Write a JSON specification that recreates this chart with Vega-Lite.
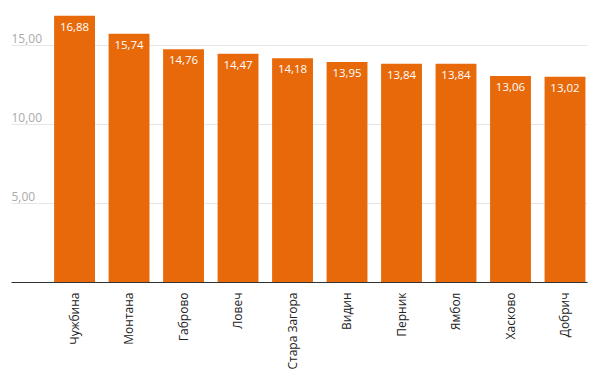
{
  "$schema": "https://vega.github.io/schema/vega-lite/v6.json",
  "width": 576,
  "height": 276,
  "autosize": {"type": "none"},
  "padding": {"left": 11, "top": 6, "right": 8, "bottom": 105},
  "config": {
    "view": {"stroke": null},
    "font": "Open Sans",
    "locale": {"number": {"decimal": ",", "thousands": ".", "grouping": [3], "currency": ["", " €"]}}
  },
  "data": {"values": [
    {"region": "Чужбина", "value": 16.88},
    {"region": "Монтана", "value": 15.74},
    {"region": "Габрово", "value": 14.76},
    {"region": "Ловеч", "value": 14.47},
    {"region": "Стара Загора", "value": 14.18},
    {"region": "Видин", "value": 13.95},
    {"region": "Перник", "value": 13.84},
    {"region": "Ямбол", "value": 13.84},
    {"region": "Хасково", "value": 13.06},
    {"region": "Добрич", "value": 13.02}
  ]},
  "encoding": {
    "x": {
      "field": "region", "type": "nominal", "sort": null,
      "scale": {"paddingInner": 0.25, "paddingOuter": 0.41, "align": 0.965},
      "axis": {"title": null, "labelAngle": -90, "labelAlign": "right", "labelBaseline": "middle", "labelPadding": 10, "ticks": false, "labelFontSize": 12, "labelColor": "#222", "domainColor": "#333", "domainWidth": 1}
    },
    "y": {
      "field": "value", "type": "quantitative",
      "scale": {"domain": [0, 17.5], "nice": false},
      "axis": {"title": null, "values": [5, 10, 15], "format": ".2f", "domain": false, "ticks": false, "grid": true, "gridColor": "#e6e6e6", "labelAlign": "left", "labelBaseline": "bottom", "labelPadding": 0, "labelDy": -3, "labelColor": "#aaa", "labelFontSize": 12}
    }
  },
  "layer": [
    {"mark": {"type": "bar", "color": "#e8690a"}},
    {"mark": {"type": "text", "color": "white", "baseline": "middle", "dy": 12, "fontSize": 11.5},
     "encoding": {"text": {"field": "value", "type": "quantitative", "format": ".2f"}}}
  ]
}
